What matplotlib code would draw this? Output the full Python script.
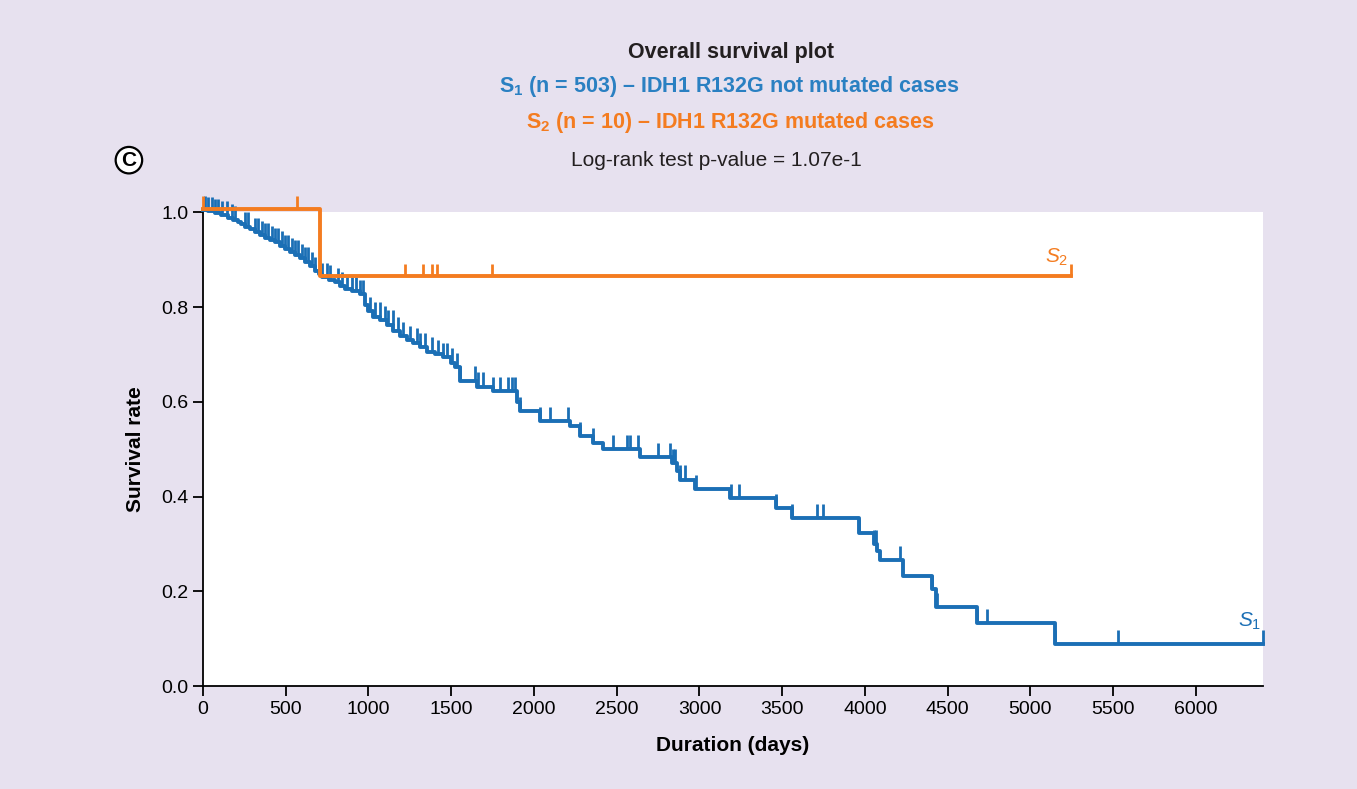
import numpy as np
import matplotlib
matplotlib.use('Agg')
import matplotlib.pyplot as plt

# S1: not mutated (n = 503) -- step times (days) and survival after each step
s1_time = [0, 30, 73, 110, 151, 180, 211, 230, 254, 285, 314, 345, 375, 405, 435,
           465, 495, 525, 556, 585, 616, 645, 677, 700, 719, 760, 798, 830, 858, 900,
           949, 980, 1000, 1027, 1070, 1112, 1150, 1190, 1230, 1269, 1310, 1353, 1400,
           1450, 1500, 1520, 1553, 1656, 1752, 1897, 1915, 2036, 2217, 2278, 2356, 2417,
           2640, 2834, 2864, 2882, 2973, 3184, 3462, 3559, 3964, 4054, 4075, 4091, 4230,
           4405, 4429, 4677, 5148, 6405]
s1_surv = [1.005, 1.002, 0.998, 0.994, 0.988, 0.984, 0.980, 0.975, 0.970, 0.964, 0.958,
           0.952, 0.947, 0.942, 0.937, 0.930, 0.922, 0.916, 0.911, 0.904, 0.896, 0.886,
           0.876, 0.869, 0.863, 0.858, 0.852, 0.845, 0.838, 0.834, 0.828, 0.805, 0.792,
           0.780, 0.772, 0.763, 0.750, 0.738, 0.731, 0.725, 0.716, 0.706, 0.701, 0.694,
           0.683, 0.674, 0.645, 0.632, 0.622, 0.600, 0.580, 0.560, 0.548, 0.527, 0.514,
           0.501, 0.484, 0.471, 0.455, 0.436, 0.416, 0.396, 0.376, 0.355, 0.323, 0.300,
           0.285, 0.266, 0.233, 0.205, 0.167, 0.133, 0.089, 0.089]
s1_censor = [12, 30, 54, 73, 91, 115, 145, 175, 193, 254, 272, 314, 332, 357, 375, 393,
             417, 435, 453, 477, 495, 514, 538, 556, 574, 598, 616, 634, 659, 677, 719,
             749, 767, 816, 840, 870, 900, 924, 949, 967, 1009, 1039, 1069, 1100, 1118,
             1148, 1178, 1208, 1251, 1293, 1311, 1341, 1384, 1420, 1450, 1474, 1505, 1535,
             1553, 1644, 1662, 1692, 1752, 1795, 1843, 1867, 1885, 1915, 2036, 2097, 2205,
             2278, 2356, 2477, 2562, 2580, 2628, 2749, 2822, 2840, 2852, 2882, 2912, 2979,
             3190, 3239, 3462, 3559, 3710, 3746, 3964, 4054, 4066, 4211, 4405, 4435, 4677,
             4737, 5148, 5529, 6405]

# S2: mutated (n = 10)
s2_time = [0, 707, 5245]
s2_surv = [1.008, 0.865, 0.865]
s2_censor = [0, 568, 707, 1220, 1329, 1384, 1414, 1746, 5245]

blue = '#1b6fb5'
blue_txt = '#2a80c2'
orange = '#f47c20'
bg = '#e7e1ef'

plt.rcParams['font.family'] = ['Liberation Sans', 'DejaVu Sans']
plt.rcParams['mathtext.fontset'] = 'custom'
plt.rcParams['mathtext.rm'] = 'Liberation Sans'
plt.rcParams['mathtext.it'] = 'Liberation Sans:italic'
plt.rcParams['mathtext.bf'] = 'Liberation Sans:bold'


def level_at(times, surv, t):
    i = np.searchsorted(times, t, side='right') - 1
    return np.array(surv)[i]


fig = plt.figure(figsize=(13.57, 7.89), dpi=100, facecolor=bg)
ax = fig.add_axes([0.1496, 0.1305, 0.7811, 0.6003])
ax.set_facecolor('white')

ax.step(s1_time, s1_surv, where='post', color=blue, lw=2.8, clip_on=False, zorder=3)
c1 = np.array(s1_censor)
ax.vlines(c1, level_at(s1_time, s1_surv, c1), level_at(s1_time, s1_surv, c1) + 0.03,
          color=blue, lw=2.0, clip_on=False, zorder=3)

ax.step(s2_time, s2_surv, where='post', color=orange, lw=2.8, clip_on=False, zorder=4)
c2 = np.array(s2_censor)
ax.vlines(c2, level_at(s2_time, s2_surv, c2), level_at(s2_time, s2_surv, c2) + 0.027,
          color=orange, lw=2.0, clip_on=False, zorder=4)

ax.text(5160, 0.905, '$S_2$', color=orange, fontsize=15, ha='center', va='center')
ax.text(6325, 0.137, '$S_1$', color=blue, fontsize=15, ha='center', va='center')

ax.set_xlim(0, 6405)
ax.set_ylim(0, 1.0)
ax.set_xticks(np.arange(0, 6001, 500))
ax.set_yticks([0.0, 0.2, 0.4, 0.6, 0.8, 1.0])
ax.set_yticklabels(['0.0', '0.2', '0.4', '0.6', '0.8', '1.0'])
ax.tick_params(direction='out', length=7, width=1.3, labelsize=14, colors='black')
for s in ['top', 'right']:
    ax.spines[s].set_visible(False)
for s in ['left', 'bottom']:
    ax.spines[s].set_linewidth(1.3)

ax.set_xlabel('Duration (days)', fontsize=15, fontweight='bold', labelpad=13)
ax.set_ylabel('Survival rate', fontsize=15, fontweight='bold', labelpad=12)

fig.text(0.539, 0.934, 'Overall survival plot', fontsize=15.5, fontweight='bold',
         ha='center', va='center', color='#231f20')
fig.text(0.537, 0.891, r'$\mathbf{S_1}$ (n = 503) – IDH1 R132G not mutated cases',
         fontsize=15.5, fontweight='bold', ha='center', va='center', color=blue_txt)
fig.text(0.538, 0.845, r'$\mathbf{S_2}$ (n = 10) – IDH1 R132G mutated cases',
         fontsize=15.5, fontweight='bold', ha='center', va='center', color=orange)
fig.text(0.528, 0.797, 'Log-rank test p-value = 1.07e-1', fontsize=15,
         ha='center', va='center', color='#231f20')
fig.text(0.095, 0.797, 'C', fontsize=15, fontweight='bold', ha='center', va='center',
         bbox=dict(boxstyle='circle,pad=0.18', fc='white', ec='black', lw=1.6))

fig.savefig('out.png', dpi=100, facecolor=bg)
